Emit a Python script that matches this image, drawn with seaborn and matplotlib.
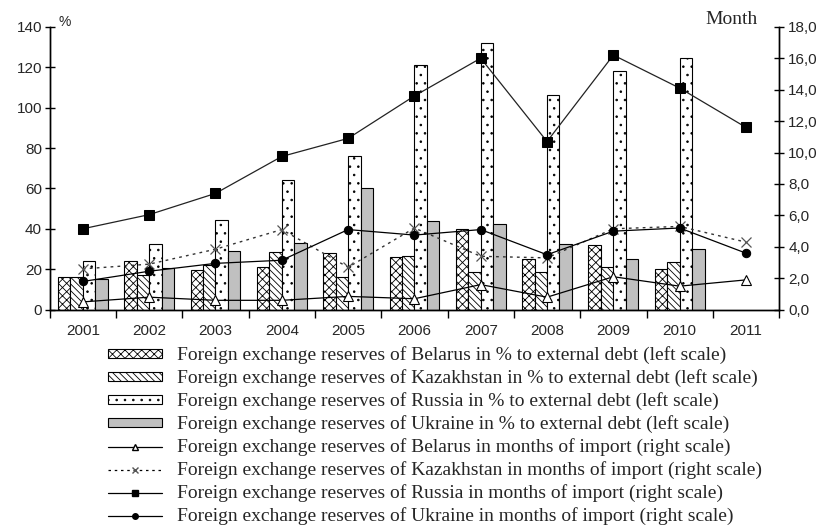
import numpy as np
import pandas as pd
import seaborn as sns
import matplotlib.pyplot as plt
from matplotlib.patches import Patch
from matplotlib.lines import Line2D

# data
years = ['2001', '2002', '2003', '2004', '2005', '2006', '2007', '2008', '2009', '2010', '2011']
bar_years = years[:10]

# reserves in % to external debt (left scale)
belarus_pct = [16, 24, 19.5, 21, 28, 26, 40, 25, 32, 20]
kazakh_pct = [16, 17, 22, 28.5, 16, 26.5, 18.5, 18.5, 21, 23.5]
russia_pct = [24, 32.5, 44.5, 64, 76, 121, 132, 106, 118, 124.5]
ukraine_pct = [15, 20.5, 29, 33, 60, 44, 42.5, 32.5, 25, 30]

# reserves in months of import (right scale)
belarus_mon = [0.5, 0.8, 0.6, 0.6, 0.85, 0.7, 1.6, 0.8, 2.1, 1.5, 1.9]
kazakh_mon = [2.6, 2.9, 3.85, 5.1, 2.7, 5.2, 3.4, 3.3, 5.15, 5.3, 4.3]
russia_mon = [5.15, 6.05, 7.4, 9.75, 10.9, 13.6, 16.0, 10.7, 16.2, 14.1, 11.6]
ukraine_mon = [1.8, 2.45, 2.95, 3.15, 5.1, 4.75, 5.1, 3.5, 5.0, 5.2, 3.6]

countries = ['Belarus', 'Kazakhstan', 'Russia', 'Ukraine']

sns.set_style('white')
plt.rcParams['font.family'] = ['Liberation Sans', 'DejaVu Sans']
plt.rcParams['hatch.linewidth'] = 0.6

bars = pd.DataFrame({
    'year': bar_years * 4,
    'country': sum([[c] * 10 for c in countries], []),
    'value': belarus_pct + kazakh_pct + russia_pct + ukraine_pct,
})

fig = plt.figure(figsize=(8.28, 5.25), dpi=100)
ax = fig.add_axes([0.06, 0.41, 0.881, 0.539])

face = {'Belarus': 'white', 'Kazakhstan': 'white', 'Russia': 'white', 'Ukraine': '#c0c0c0'}
sns.barplot(data=bars, x='year', y='value', hue='country', order=years,
            hue_order=countries, palette=face, width=0.75, gap=0,
            edgecolor='black', linewidth=0.8, saturation=1, legend=False, ax=ax)

hatches = ['xxxx', '\\\\\\\\\\', '..', '']
for cont, h in zip(ax.containers, hatches):
    for p in cont:
        p.set_hatch(h)
        p.set_edgecolor('black')

ax.set_xlim(-0.5, 10.5)
ax.set_ylim(0, 140)
ax.set_yticks(np.arange(0, 141, 20))
ax.set_xlabel('')
ax.set_ylabel('')
ax.set_xticks(np.arange(11))
ax.set_xticklabels(years)
ax.set_xticks(np.arange(-0.5, 11, 1), minor=True)
ax.tick_params(axis='x', which='major', length=0, pad=10, labelsize=11)
ax.tick_params(axis='x', which='minor', length=6, direction='out', width=1, color='black', bottom=True)
ax.tick_params(axis='y', length=7, direction='inout', width=1, color='black', left=True, labelsize=11, pad=2)

ax2 = ax.twinx()
idx = np.arange(11)
sns.lineplot(x=idx, y=belarus_mon, ax=ax2, color='black', linewidth=0.9,
             marker='^', markersize=7, markerfacecolor='white', markeredgecolor='black',
             markeredgewidth=0.8, legend=False)
sns.lineplot(x=idx, y=kazakh_mon, ax=ax2, color='#333333', linewidth=1.0, linestyle=(0, (2, 3)),
             marker='x', markersize=7, markeredgecolor='#555555', markeredgewidth=0.9, legend=False)
sns.lineplot(x=idx, y=russia_mon, ax=ax2, color='#222222', linewidth=0.9,
             marker='s', markersize=7, markerfacecolor='black', markeredgecolor='black', legend=False)
sns.lineplot(x=idx, y=ukraine_mon, ax=ax2, color='black', linewidth=0.9,
             marker='o', markersize=6, markerfacecolor='black', markeredgecolor='black', legend=False)

ax2.set_ylim(0, 18)
ax2.set_yticks(np.arange(0, 18.1, 2))
ax2.set_yticklabels([f'{v:.1f}'.replace('.', ',') for v in np.arange(0, 18.1, 2)])
ax2.tick_params(axis='y', length=7, direction='inout', width=1, color='black', right=True, labelsize=11, pad=3)
ax2.set_xlim(-0.5, 10.5)

for a in (ax, ax2):
    a.spines['top'].set_visible(False)
    for s in ('left', 'right', 'bottom'):
        a.spines[s].set_color('black')
        a.spines[s].set_linewidth(1)

ax.text(0.012, 1.018, '%', transform=ax.transAxes, fontsize=10, va='center', ha='left')
ax2.text(0.971, 1.027, 'Month', transform=ax2.transAxes, fontsize=14, va='center', ha='right',
         family=['Liberation Serif', 'DejaVu Serif'])

handles = [
    Patch(facecolor='white', edgecolor='black', hatch='xxxx', linewidth=0.8),
    Patch(facecolor='white', edgecolor='black', hatch='\\\\\\\\\\', linewidth=0.8),
    Patch(facecolor='white', edgecolor='black', hatch='..', linewidth=0.8),
    Patch(facecolor='#c0c0c0', edgecolor='black', linewidth=0.8),
    Line2D([], [], color='black', lw=0.9, marker='^', markersize=5, markerfacecolor='white', markeredgecolor='black'),
    Line2D([], [], color='black', lw=0.9, linestyle=(0, (2, 3)), marker='x', markersize=5, markeredgecolor='#555555'),
    Line2D([], [], color='black', lw=0.9, marker='s', markersize=5, markerfacecolor='black'),
    Line2D([], [], color='black', lw=0.9, marker='o', markersize=4, markerfacecolor='black'),
]
labels = [
    'Foreign exchange reserves of Belarus in % to external debt (left scale)',
    'Foreign exchange reserves of Kazakhstan in % to external debt (left scale)',
    'Foreign exchange reserves of Russia in % to external debt (left scale)',
    'Foreign exchange reserves of Ukraine in % to external debt (left scale)',
    'Foreign exchange reserves of Belarus in months of import (right scale)',
    'Foreign exchange reserves of Kazakhstan in months of import (right scale)',
    'Foreign exchange reserves of Russia in months of import (right scale)',
    'Foreign exchange reserves of Ukraine in months of import (right scale)',
]
fig.legend(handles, labels, loc='upper left', bbox_to_anchor=(0.130, 0.340), frameon=False,
           prop={'family': ['Liberation Serif', 'DejaVu Serif'], 'size': 14},
           handlelength=2.8, handleheight=0.35, handletextpad=0.75, labelspacing=0.26,
           borderpad=0, borderaxespad=0)

fig.savefig('out.png', dpi=100)
